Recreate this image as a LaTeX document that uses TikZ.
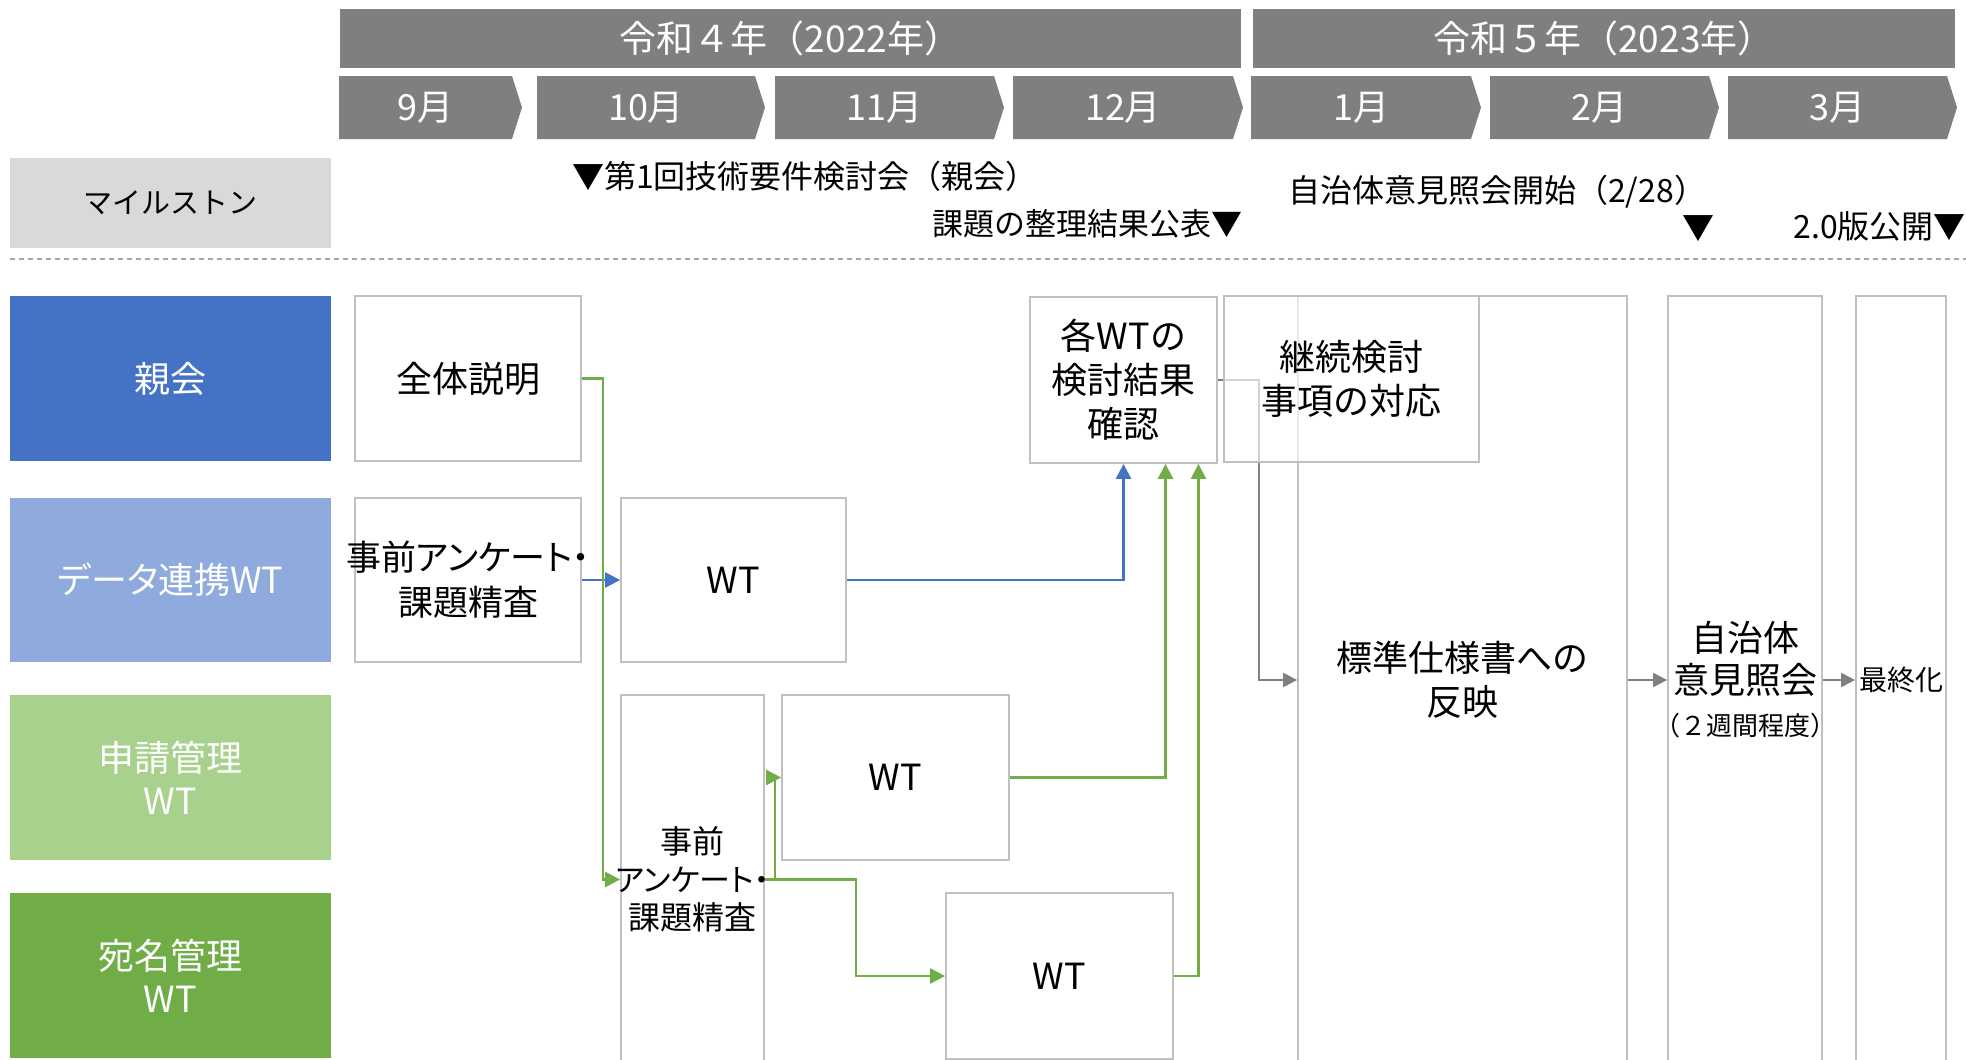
\documentclass[tikz,border=0pt]{standalone}
\usepackage{fontspec}
\setmainfont{Noto Sans CJK JP}
\newfontfamily\jpp[RawFeature=+palt]{Noto Sans CJK JP}
\usetikzlibrary{arrows.meta}
\definecolor{hdrgray}{HTML}{7F7F7F}
\definecolor{msgray}{HTML}{D9D9D9}
\definecolor{boxgray}{HTML}{BFBFBF}
\definecolor{cblue}{HTML}{4472C4}
\definecolor{clblue}{HTML}{8FAADC}
\definecolor{clgreen}{HTML}{A9D18E}
\definecolor{cgreen}{HTML}{70AD47}
\definecolor{cgray}{HTML}{808080}
\definecolor{dashgray}{HTML}{A6A6A6}
\newcommand\fsz[2]{\fontsize{#1}{#2}\selectfont}
% rectangle node from corner coordinates: style, name, x1, y1, x2, y2, text
\newcommand\rbox[7]{%
  \node[#1, minimum width={(#5-#3)*1pt}, minimum height={(#6-#4)*1pt}]
    (#2) at ({(#3+#5)/2},{(#4+#6)/2}) {#7};}
\newcommand\chev[4]{%
  \fill[hdrgray] (#2,76) -- ({#3-10},76) -- (#3,107.5) -- ({#3-10},139) -- (#2,139) -- cycle;
  \node[mon] (#1) at ({(#2+#3-10)/2},107.5) {#4};}
\tikzset{
  hdr/.style={fill=hdrgray, text=white, inner sep=0pt, font=\fsz{37}{40}},
  mon/.style={text=white, inner sep=0pt, font=\fsz{36}{40}},
  ms/.style={inner sep=0pt, font=\fsz{32}{36}},
  lab/.style={inner sep=0pt, align=center, text=white, font=\fsz{36}{43}},
  box/.style={draw=boxgray, line width=1.8pt, fill=white, inner sep=0pt, align=center, font=\fsz{36}{44}},
  bconn/.style={draw=cblue, line width=2.6pt, -{Triangle[length=15pt,width=15pt]}},
  gconn/.style={draw=cgreen, line width=2.6pt, -{Triangle[length=15pt,width=15pt]}},
  yconn/.style={draw=cgray, line width=2.2pt, -{Triangle[length=14pt,width=14pt]}},
}
\begin{document}
\begin{tikzpicture}[x=1pt,y=-1pt]
\fill[white] (0,0) rectangle (1966,1060);
\useasboundingbox (0,0) rectangle (1966,1060);
% year headers
\rbox{hdr}{yr4}{340}{9}{1241}{68}{令和４年（2022年）}
\rbox{hdr}{yr5}{1253}{9}{1955}{68}{令和５年（2023年）}
% months
\chev{m9}{339}{522}{9月}
\chev{m10}{537}{765}{10月}
\chev{m11}{775}{1004}{11月}
\chev{m12}{1013}{1243}{12月}
\chev{m1}{1251}{1481}{1月}
\chev{m2}{1490}{1719}{2月}
\chev{m3}{1728}{1957}{3月}
% milestones
\rbox{lab, fill=msgray, text=black, font=\fsz{29}{34}}{mslab}{10}{158}{331}{248}{マイルストン}
\node[ms, anchor=west] (ms1) at (572,176) {▼第1回技術要件検討会（親会）};
\node[ms, anchor=east, font=\fsz{31}{36}] (ms2) at (1243,224) {課題の整理結果公表▼};
\node[ms, anchor=west] (ms3) at (1288,192) {自治体意見照会開始（2/28）};
\node[ms] (ms4) at (1698,229) {▼};
\node[ms, anchor=east] (ms5) at (1966,226) {2.0版公開▼};
\draw[dashgray, line width=1.3pt, dash pattern=on 5pt off 4pt] (10,259) -- (1966,259);
% row labels
\rbox{lab, fill=cblue}{oya}{10}{296}{331}{461}{親会}
\rbox{lab, fill=clblue, font=\jpp\fsz{36}{43}}{data}{10}{498}{331}{662}{データ連携WT}
\rbox{lab, fill=clgreen}{shinsei}{10}{695}{331}{860}{申請管理\\WT}
\rbox{lab, fill=cgreen}{atena}{10}{893}{331}{1058}{宛名管理\\WT}
% boxes
\rbox{box}{zentai}{355}{296}{581}{461}{全体説明}
\rbox{box, font=\jpp\fsz{35}{45}}{jizen2}{355}{498}{581}{662}{\makebox[0pt]{事前アンケート・}\\課題精査}
\rbox{box}{wtD}{621}{498}{846}{662}{WT}
\rbox{box, font=\jpp\fsz{32}{38}}{jizenT}{621}{695}{764}{1064}{事前\\\makebox[0pt]{\fsz{31}{38}アンケート・}\\課題精査}
\rbox{box}{wtS}{782}{695}{1009}{860}{WT}
\rbox{box}{wtA}{946}{893}{1173}{1059}{WT}
\rbox{box}{kaku}{1030}{297}{1217}{463}{各WTの\\検討結果\\確認}
\rbox{box}{hyojun}{1298}{296}{1627}{1064}{標準仕様書への\\反映}
\rbox{box, font=\fsz{36}{42}}{jichi}{1668}{296}{1822}{1064}{自治体\\意見照会\\\makebox[0pt]{\fsz{26}{30}（２週間程度）}}
\rbox{box, font=\fsz{28}{34}}{saishu}{1856}{296}{1946}{1064}{最終化}
% connectors
\draw[bconn] (jizen2.east) -- (wtD.west);
\draw[gconn] (zentai.east) -- ++(21,0) |- (jizenT.west);
\draw[bconn] (wtD.east) -| (kaku.south);
\draw[gconn] (wtS.east) -| ([xshift=42pt]kaku.south);
\draw[gconn] (wtA.east) -| ([xshift=75pt]kaku.south);
\draw[gconn] (jizenT.east) -- ++(10,0) |- (wtS.west);
\draw[gconn] (jizenT.east) -- ++(91,0) |- (wtA.west);
\draw[yconn] (kaku.east) -- ++(41,0) |- (hyojun.west);
\draw[yconn] (hyojun.east) -- (jichi.west);
\draw[yconn] (jichi.east) -- (saishu.west);
% translucent box on top
\rbox{box, fill opacity=0.65, text opacity=1}{keizoku}{1224}{296}{1479}{462}{継続検討\\事項の対応}
\end{tikzpicture}
\end{document}
